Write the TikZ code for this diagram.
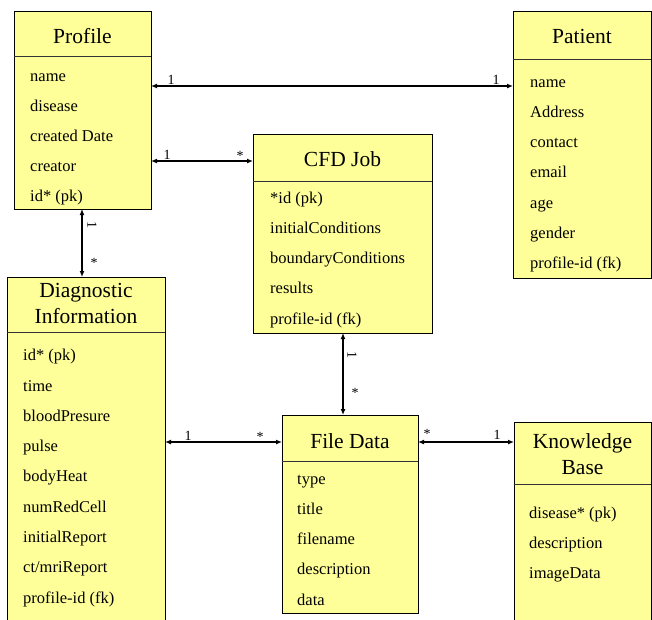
\documentclass[tikz,border=0pt]{standalone}
\usepackage{fontspec}
\setmainfont{Liberation Serif}
\newfontfamily\timesf{Liberation Serif}
\usetikzlibrary{arrows.meta}
\definecolor{boxfill}{HTML}{FFFF99}
\begin{document}
\begin{tikzpicture}[x=1pt,y=-1pt,
  entity/.style={draw, fill=boxfill, line width=1pt, inner sep=0pt, outer sep=0pt},
  divider/.style={line width=0.8pt, draw=black!80},
  ttl/.style={font=\timesf\fontsize{21.5}{26}\selectfont, anchor=base, inner sep=0pt},
  item/.style={font=\timesf\fontsize{16.5}{20}\selectfont, anchor=base west, inner sep=0pt},
  rel/.style={{Latex[length=6pt,width=5pt]}-{Latex[length=6pt,width=5pt]}, line width=1.3pt},
  mult/.style={font=\timesf\fontsize{14}{16}\selectfont, inner sep=0pt}]
\clip (0,0) rectangle (652,619);
\fill[white] (0,0) rectangle (652,619);

% boxes
\node[entity, minimum width=137pt, minimum height=198pt] (profile) at (82.5,110) {};
\node[entity, minimum width=138pt, minimum height=267pt] (patient) at (582,144.5) {};
\node[entity, minimum width=179pt, minimum height=199pt] (cfd) at (342.5,233.5) {};
\node[entity, minimum width=158pt, minimum height=353pt] (diag) at (86,453.5) {};
\node[entity, minimum width=136pt, minimum height=198pt] (fd) at (350,514) {};
\node[entity, minimum width=137pt, minimum height=208pt] (kb) at (582.5,526) {};

% dividers
\draw[divider] (profile.west |- 0,56) -- (profile.east |- 0,56);
\draw[divider] (patient.west |- 0,59) -- (patient.east |- 0,59);
\draw[divider] (cfd.west |- 0,181) -- (cfd.east |- 0,181);
\draw[divider] (diag.west |- 0,332) -- (diag.east |- 0,332);
\draw[divider] (fd.west |- 0,461) -- (fd.east |- 0,461);
\draw[divider] (kb.west |- 0,484) -- (kb.east |- 0,484);

% titles
\node[ttl] (t1) at (82.5,43) {Profile};
\node[ttl] (t2) at (582,43) {Patient};
\node[ttl] (t3) at (342.5,166) {CFD Job};
\node[ttl] (t4a) at (86,297) {Diagnostic};
\node[ttl] (t4b) at (86,323) {Information};
\node[ttl] (t5) at (350,448) {File Data};
\node[ttl] (t6a) at (582.5,448) {Knowledge};
\node[ttl] (t6b) at (582.5,474) {Base};

% items
\foreach \t [count=\i from 0] in {name,disease,created Date,creator,id* (pk)}
  \node[item] (pi\i) at (30,81+30*\i) {\t};
\foreach \t [count=\i from 0] in {name,Address,contact,email,age,gender,profile-id (fk)}
  \node[item] (pa\i) at (530,87+30.33*\i) {\t};
\foreach \t [count=\i from 0] in {*id (pk),initialConditions,boundaryConditions,results,profile-id (fk)}
  \node[item] (ci\i) at (270,203+30.25*\i) {\t};
\foreach \t [count=\i from 0] in {id* (pk),time,bloodPresure,pulse,bodyHeat,numRedCell,initialReport,ct/mriReport,profile-id (fk)}
  \node[item] (di\i) at (23,360.7+30.3*\i) {\t};
\foreach \t [count=\i from 0] in {type,title,filename,description,data}
  \node[item] (fi\i) at (297,484+30.25*\i) {\t};
\foreach \t [count=\i from 0] in {disease* (pk),description,imageData}
  \node[item] (ki\i) at (529,518+30*\i) {\t};

% connectors
\draw[rel] (profile.east |- 0,86) -- (patient.west |- 0,86);
\draw[rel] (profile.east |- 0,161) -- (cfd.west |- 0,161);
\draw[rel] (82,0 |- profile.south) -- (82,0 |- diag.north);
\draw[rel] (343,0 |- cfd.south) -- (343,0 |- fd.north);
\draw[rel] (diag.east |- 0,442) -- (fd.west |- 0,442);
\draw[rel] (fd.east |- 0,442) -- (kb.west |- 0,442);

% multiplicities
\node[mult, anchor=base] (m1) at (171,84) {1};
\node[mult, anchor=base] (m2) at (496,84) {1};
\node[mult, anchor=base] (m3) at (167,159.5) {1};
\node[mult, anchor=base] (m4) at (240,160.5) {*};
\node[mult, rotate=-90] (m5) at (92,225) {1};
\node[mult, anchor=base] (m6) at (94,267.5) {*};
\node[mult, rotate=-90] (m7) at (352,355) {1};
\node[mult, anchor=base] (m8) at (355,397.5) {*};
\node[mult, anchor=base] (m9) at (188,440.5) {1};
\node[mult, anchor=base] (m10) at (260,441.5) {*};
\node[mult, anchor=base] (m11) at (427,438.5) {*};
\node[mult, anchor=base] (m12) at (497,439.5) {1};
\end{tikzpicture}
\end{document}
